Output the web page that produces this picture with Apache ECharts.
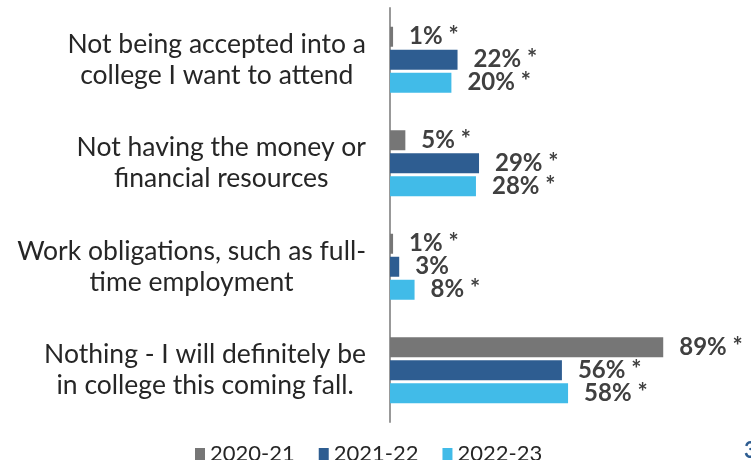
<!DOCTYPE html>
<html>
<head>
<meta charset="utf-8">
<script src="https://cdn.jsdelivr.net/npm/echarts@6/dist/echarts.min.js"></script>
<style>
  html, body { margin: 0; padding: 0; background: #fff; }
  #chart { width: 751px; height: 460px; }
</style>
</head>
<body>
<div id="chart"></div>
<script>
// data
const categories = [
  'Not being accepted into a\ncollege I want to attend',
  'Not having the money or\nfinancial resources',
  'Work obligations, such as full-\ntime employment',
  'Nothing - I will definitely be\nin college this coming fall.'
]
const seriesNames = ['2020-21', '2021-22', '2022-23']
const values2021 = [1, 5, 1, 89]
const values2122 = [22, 29, 3, 56]
const values2223 = [20, 28, 8, 58]
// significance star after the value
const star2021 = [true, true, true, true]
const star2122 = [true, true, false, true]
const star2223 = [true, true, true, true]

const colors = ['#767676', '#2E5D91', '#41BBE8']
const font = 'Lato, "Open Sans", sans-serif'

const makeSeries = (name, values, stars, color) => ({
  name,
  type: 'bar',
  barWidth: 20,
  barGap: '15%',
  itemStyle: { color },
  label: {
    show: true,
    position: 'right',
    distance: 16,
    fontFamily: font,
    fontWeight: 'bold',
    fontSize: 24,
    color: '#404040',
    formatter: (p) => p.value + '%' + (stars[p.dataIndex] ? ' *' : '')
  },
  data: values
})

const chart = echarts.init(document.getElementById('chart'))
chart.setOption({
  animation: false,
  textStyle: { fontFamily: font },
  grid: { left: 390, top: 8, width: 307, bottom: 38 },
  legend: {
    data: seriesNames,
    top: 438,
    left: 190,
    itemWidth: 10,
    itemHeight: 12,
    itemGap: 24,
    icon: 'rect',
    textStyle: { fontFamily: font, fontSize: 22, color: '#262626' }
  },
  xAxis: {
    type: 'value',
    min: 0,
    max: 100,
    show: false
  },
  yAxis: {
    type: 'category',
    inverse: true,
    data: categories,
    axisLine: { lineStyle: { color: '#999', width: 2 } },
    axisTick: { show: false },
    axisLabel: {
      margin: 24,
      align: 'right',
      formatter: (v) => v.split('\n').map(l => '{c|' + l + '}').join('\n'),
      rich: {
        c: { align: 'center', fontFamily: font, fontSize: 26.5, lineHeight: 31, color: '#262626' }
      }
    }
  },
  graphic: [{
    type: 'text',
    left: 744,
    top: 440,
    style: { text: '3', fontFamily: font, fontSize: 22, fontWeight: 'bold', fill: '#2E5D91' }
  }],
  series: [
    makeSeries(seriesNames[0], values2021, star2021, colors[0]),
    makeSeries(seriesNames[1], values2122, star2122, colors[1]),
    makeSeries(seriesNames[2], values2223, star2223, colors[2])
  ]
})
window.addEventListener('resize', () => { chart.resize() })
</script>
</body>
</html>
